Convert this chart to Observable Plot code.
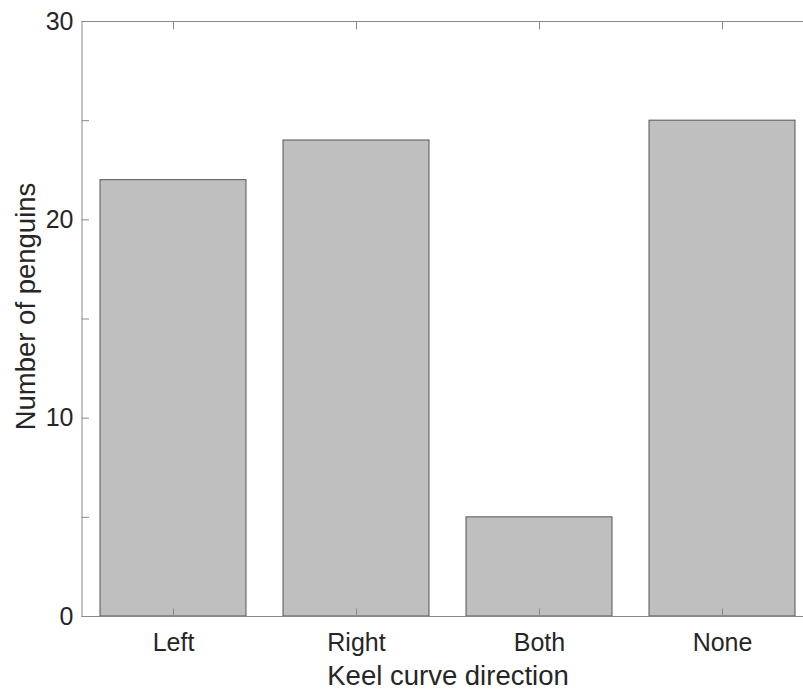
<!DOCTYPE html>
<html>
<head>
<meta charset="utf-8">
<script src="https://cdn.jsdelivr.net/npm/d3@7"></script>
<script src="https://cdn.jsdelivr.net/npm/@observablehq/plot@0.6"></script>
<style>
  html, body { margin: 0; padding: 0; background: #fff; overflow: hidden; }
</style>
</head>
<body>
<div id="chart"></div>
<script>
const categories = ["Left", "Right", "Both", "None"];
const counts = [22, 24, 5, 25];
const yTickLabels = [0, 10, 20, 30];
const yTicksAll = [0, 5, 10, 15, 20, 25, 30];
const xLabel = "Keel curve direction";
const yLabel = "Number of penguins";

const data = categories.map((c, i) => ({category: c, count: counts[i]}));

const axisColor = "#8a8a8a";
const textColor = "#262626";

const chart = Plot.plot({
  width: 803,
  height: 690,
  marginLeft: 81.5,
  marginRight: -10.5,
  marginTop: 21,
  marginBottom: 74,
  style: {fontFamily: "'Liberation Sans', Arial, Helvetica, sans-serif", fontSize: "25px", color: textColor, background: "#fff"},
  x: {domain: categories, paddingInner: 0.2, paddingOuter: 0.1, label: null},
  y: {domain: [0, 30], label: null},
  marks: [
    Plot.barY(data, {x: "category", y: "count", fill: "#bfbfbf", stroke: "#555", strokeWidth: 1}),
    Plot.frame({stroke: axisColor, strokeWidth: 1}),
    // left axis: inward ticks
    Plot.axisY({ticks: yTicksAll, tickSize: -7.5, tickFormat: () => "", stroke: axisColor, label: null}),
    // left axis labels
    Plot.axisY({ticks: yTickLabels, tickSize: 0, tickPadding: 8.5, fill: textColor, fontSize: 25, label: null}),
    // bottom axis: inward ticks
    Plot.axisX({tickSize: -7.5, tickFormat: () => "", stroke: axisColor, label: null}),
    // bottom labels
    Plot.axisX({tickSize: 0, tickPadding: 17, fill: textColor, fontSize: 25, label: null}),
    // top axis: inward ticks
    Plot.axisX({anchor: "top", tickSize: -7.5, tickFormat: () => "", stroke: axisColor, label: null}),
    // axis titles
    Plot.text([xLabel], {frameAnchor: "bottom", text: d => d, fontSize: 27.5, fill: textColor, lineAnchor: "bottom", dy: 68}),
    Plot.text([yLabel], {frameAnchor: "left", text: d => d, fontSize: 27.5, fill: textColor, rotate: -90, textAnchor: "middle", lineAnchor: "bottom", dx: -47, dy: -12.5})
  ]
});
document.getElementById("chart").appendChild(chart);
</script>
</body>
</html>
